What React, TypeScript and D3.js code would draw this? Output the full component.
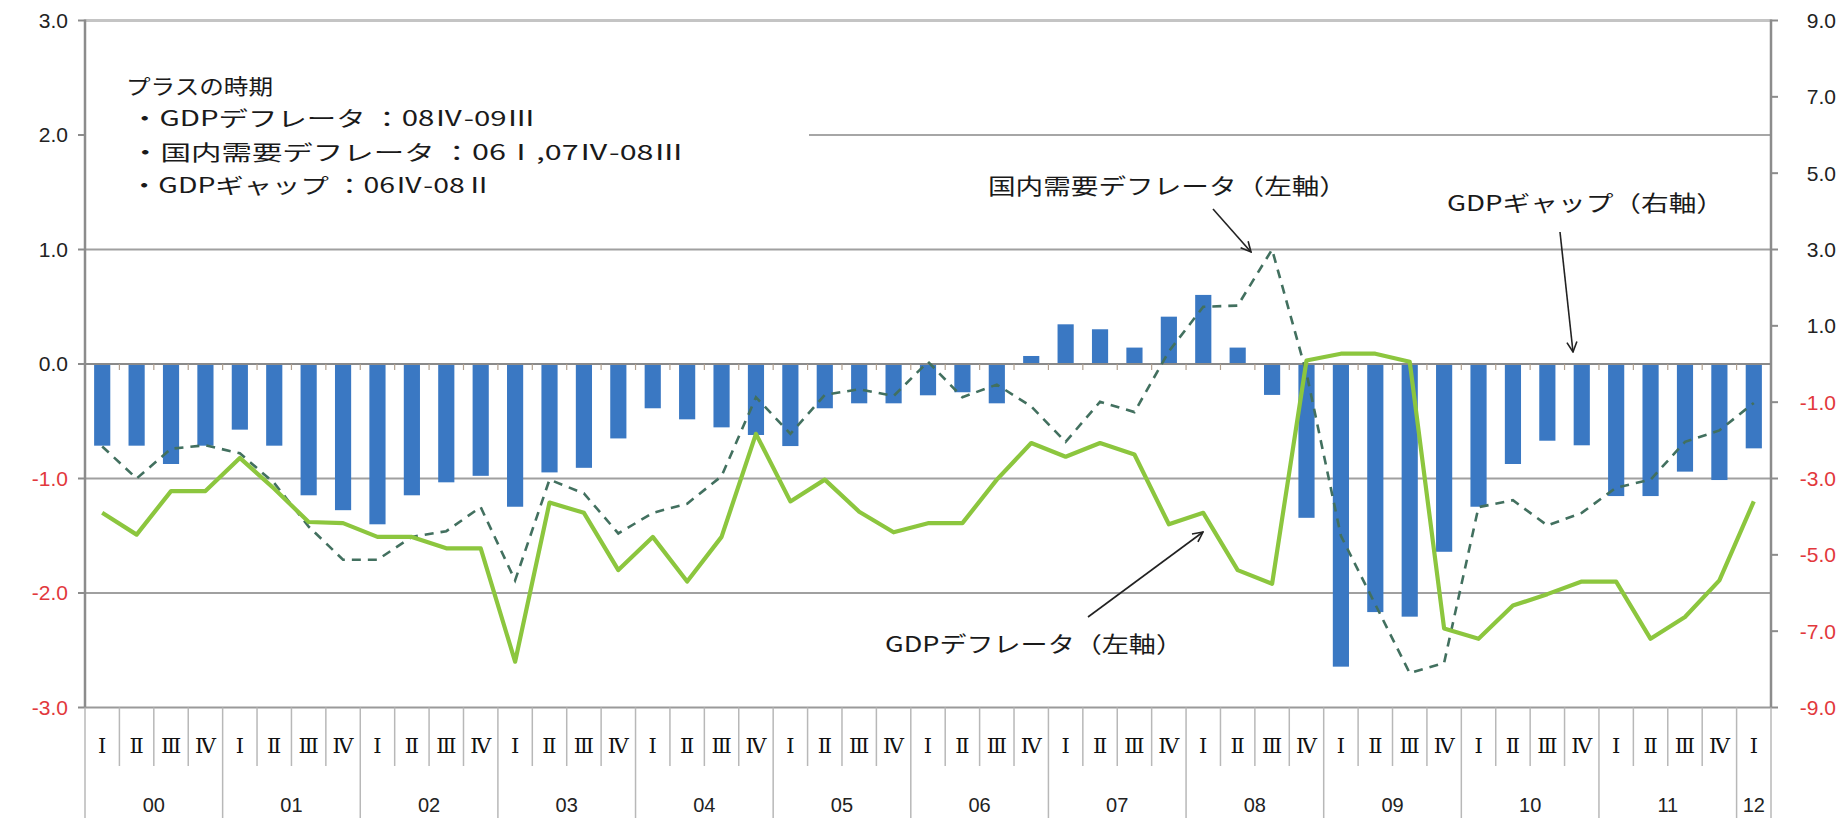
import React from "react";
import * as d3 from "d3";

// ---- data ----
const years = ["00", "01", "02", "03", "04", "05", "06", "07", "08", "09", "10", "11", "12"];
const quarterNames = ["Ⅰ", "Ⅱ", "Ⅲ", "Ⅳ"];
const quartersPerYear = [4, 4, 4, 4, 4, 4, 4, 4, 4, 4, 4, 4, 1];

// GDP gap (right axis, %)
const gdpGap = [
  -2.14, -2.14, -2.62, -2.14, -1.72, -2.14, -3.44, -3.83, -4.2, -3.44, -3.1, -2.93,
  -3.74, -2.84, -2.72, -1.95, -1.16, -1.45, -1.66, -1.86, -2.15, -1.16, -1.03, -1.03,
  -0.82, -0.74, -1.03, 0.21, 1.04, 0.91, 0.43, 1.24, 1.81, 0.43, -0.81,
  -4.03, -7.93, -6.5, -6.62, -4.92, -3.74, -2.62, -2.01, -2.13, -3.46, -3.46, -2.82, -3.04, -2.21,
];
// GDP deflator (left axis, %)
const gdpDeflator = [
  -1.3, -1.49, -1.11, -1.11, -0.82, -1.09, -1.38, -1.39, -1.51, -1.51, -1.61, -1.61,
  -2.6, -1.21, -1.3, -1.8, -1.51, -1.9, -1.51, -0.61, -1.2, -1.01, -1.29, -1.47,
  -1.39, -1.39, -1.01, -0.69, -0.81, -0.69, -0.79, -1.4, -1.3, -1.8, -1.92,
  0.03, 0.09, 0.09, 0.02, -2.31, -2.4, -2.11, -2.01, -1.9, -1.9, -2.4, -2.21, -1.89, -1.2,
];
// Domestic demand deflator (left axis, %)
const domesticDeflator = [
  -0.72, -1.0, -0.74, -0.71, -0.78, -1.04, -1.42, -1.71, -1.71, -1.51, -1.46, -1.25,
  -1.89, -1.01, -1.13, -1.48, -1.3, -1.22, -0.98, -0.29, -0.61, -0.27, -0.22, -0.28,
  0.02, -0.29, -0.18, -0.37, -0.68, -0.33, -0.42, 0.11, 0.5, 0.51, 1.0,
  -0.08, -1.5, -2.1, -2.7, -2.61, -1.25, -1.19, -1.41, -1.3, -1.08, -1.01, -0.68, -0.58, -0.34,
];

const leftTicks = [3, 2, 1, 0, -1, -2, -3];
const rightTicks = [9, 7, 5, 3, 1, -1, -3, -5, -7, -9];

const noteLines = [
  "プラスの時期",
  "・GDPデフレータ ：08Ⅳ-09Ⅲ",
  "・国内需要デフレータ ：06Ⅰ,07Ⅳ-08Ⅲ",
  "・GDPギャップ ：06Ⅳ-08Ⅱ",
];

// ---- layout ----
const W = 1848;
const H = 818;
const L = 85;
const R = 1771;
const T = 20.5;
const B = 707.5;

const JP = "'Noto Sans CJK JP', 'Noto Sans', sans-serif";
const NUM = "'Liberation Sans', Arial, sans-serif";
const SERIF = "'DejaVu Serif', 'Liberation Serif', serif";
const RED = "#e2383c";

export default function App() {
  const categories: { q: string; yi: number }[] = [];
  years.forEach((y, yi) => {
    for (let k = 0; k < quartersPerYear[yi]; k++) categories.push({ q: quarterNames[k], yi });
  });
  const n = categories.length;

  const x = d3.scaleBand<number>().domain(d3.range(n)).range([L, R]).padding(0);
  const bw = x.bandwidth();
  const cx = (i: number) => (x(i) as number) + bw / 2;
  const barW = bw * 0.47;
  const yL = d3.scaleLinear().domain([-3, 3]).range([B, T]);
  const yR = d3.scaleLinear().domain([-9, 9]).range([B, T]);

  const lineGen = d3
    .line<number>()
    .x((_, i) => cx(i))
    .y((d) => yL(d));

  const yearStarts: number[] = [];
  let acc = 0;
  quartersPerYear.forEach((q) => {
    yearStarts.push(acc);
    acc += q;
  });

  const noteLayout = [
    { x: 126, y: 86, w: 147 },
    { x: 130, y: 118, w: 406 },
    { x: 130, y: 152, w: 554 },
    { x: 130, y: 185, w: 363 },
  ];

  return (
    <svg
      width={W}
      height={H}
      viewBox={`0 0 ${W} ${H}`}
      style={{ position: "absolute", left: 0, top: 0, background: "#fff" }}
    >
      <defs>
        <marker id="arr" viewBox="0 0 12 12" refX="11" refY="6" markerWidth="12" markerHeight="12" orient="auto" markerUnits="userSpaceOnUse">
          <path d="M1,1 L11,6 L1,11" fill="none" stroke="#222" strokeWidth="1.6" />
        </marker>
      </defs>
      <rect x={0} y={0} width={W} height={H} fill="#fff" />

      {/* gridlines */}
      <line x1={L} x2={R} y1={yL(3)} y2={yL(3)} stroke="#c4c4c4" strokeWidth={3} />
      <line x1={809} x2={R} y1={yL(2)} y2={yL(2)} stroke="#a6a6a6" strokeWidth={2} />
      {[1, -1, -2].map((v) => (
        <line key={v} x1={L} x2={R} y1={yL(v)} y2={yL(v)} stroke="#a0a0a0" strokeWidth={2} />
      ))}
      <line x1={L} x2={R} y1={yL(-3)} y2={yL(-3)} stroke="#9a9a9a" strokeWidth={2} />

      {/* axis lines */}
      <line x1={L} x2={L} y1={T - 1} y2={B} stroke="#8c8c8c" strokeWidth={2.5} />
      <line x1={R} x2={R} y1={T - 1} y2={B} stroke="#8c8c8c" strokeWidth={2.5} />

      {/* left ticks and labels */}
      {leftTicks.map((v) => (
        <g key={"l" + v}>
          <line x1={L - 7} x2={L} y1={yL(v)} y2={yL(v)} stroke="#8c8c8c" strokeWidth={2} />
          <text
            x={68}
            y={yL(v)}
            dy="0.35em"
            textAnchor="end"
            fontFamily={NUM}
            fontSize={21}
            fill={v < 0 ? RED : "#222"}
          >
            {v.toFixed(1)}
          </text>
        </g>
      ))}

      {/* right ticks and labels */}
      {rightTicks.map((v) => (
        <g key={"r" + v}>
          <line x1={R} x2={R + 7} y1={yR(v)} y2={yR(v)} stroke="#8c8c8c" strokeWidth={2} />
          <text
            x={1836}
            y={yR(v)}
            dy="0.35em"
            textAnchor="end"
            fontFamily={NUM}
            fontSize={21}
            fill={v < 0 ? RED : "#222"}
          >
            {v.toFixed(1)}
          </text>
        </g>
      ))}

      {/* bars (GDP gap, right axis) */}
      {gdpGap.map((v, i) => (
        <rect
          key={"b" + i}
          x={cx(i) - barW / 2}
          y={Math.min(yR(v), yR(0))}
          width={barW}
          height={Math.abs(yR(v) - yR(0))}
          fill="#3a78c3"
        />
      ))}

      {/* zero axis with small ticks */}
      <line x1={L} x2={R} y1={yL(0)} y2={yL(0)} stroke="#8a8a8a" strokeWidth={2} />
      {d3.range(1, n).map((i) => (
        <line key={"zt" + i} x1={x(i) as number} x2={x(i) as number} y1={yL(0)} y2={yL(0) + 6} stroke="#b0a090" strokeWidth={1.2} />
      ))}

      {/* lines */}
      <path d={lineGen(domesticDeflator) || ""} fill="none" stroke="#42705f" strokeWidth={2.6} strokeDasharray="9,7" />
      <path d={lineGen(gdpDeflator) || ""} fill="none" stroke="#8cc63e" strokeWidth={4.2} strokeLinejoin="round" />

      {/* category axis separators */}
      {d3.range(1, n).map((i) => {
        const isYear = yearStarts.includes(i);
        return (
          <line
            key={"qs" + i}
            x1={x(i) as number}
            x2={x(i) as number}
            y1={B}
            y2={isYear ? H : 766}
            stroke="#b8b8b8"
            strokeWidth={1.5}
          />
        );
      })}
      <line x1={L} x2={L} y1={B} y2={H} stroke="#b8b8b8" strokeWidth={1.5} />
      <line x1={R} x2={R} y1={B} y2={H} stroke="#b8b8b8" strokeWidth={1.5} />

      {categories.map((c, i) => (
        <text
          key={"q" + i}
          x={cx(i)}
          y={746}
          dy="0.35em"
          textAnchor="middle"
          fontFamily={SERIF}
          fontSize={21}
          fill="#111"
        >
          {c.q}
        </text>
      ))}
      {years.map((yv, yi) => {
        const s = yearStarts[yi];
        const e = s + quartersPerYear[yi] - 1;
        const mid = ((x(s) as number) + (x(e) as number) + bw) / 2;
        return (
          <text key={"y" + yv} x={mid} y={805} dy="0.35em" textAnchor="middle" fontFamily={NUM} fontSize={20} fill="#222">
            {yv}
          </text>
        );
      })}

      {/* note box */}
      {noteLines.map((t, i) => (
        <text
          key={"n" + i}
          x={noteLayout[i].x}
          y={noteLayout[i].y}
          dy="0.36em"
          fontFamily={JP}
          fontSize={21}
          fill="#1a1a1a"
          textLength={noteLayout[i].w}
          lengthAdjust="spacingAndGlyphs"
        >
          {t}
        </text>
      ))}

      {/* annotations */}
      <text x={988} y={186} dy="0.36em" fontFamily={JP} fontSize={22} fill="#1a1a1a" textLength={359} lengthAdjust="spacingAndGlyphs">
        国内需要デフレータ（左軸）
      </text>
      <line x1={1213} y1={209} x2={1251} y2={252} stroke="#222" strokeWidth={1.6} markerEnd="url(#arr)" />

      <text x={1447} y={203} dy="0.36em" fontFamily={JP} fontSize={22} fill="#1a1a1a" textLength={277} lengthAdjust="spacingAndGlyphs">
        GDPギャップ（右軸）
      </text>
      <line x1={1560} y1={232} x2={1573} y2={352} stroke="#222" strokeWidth={1.6} markerEnd="url(#arr)" />

      <text x={885} y={644} dy="0.36em" fontFamily={JP} fontSize={22} fill="#1a1a1a" textLength={298} lengthAdjust="spacingAndGlyphs">
        GDPデフレータ（左軸）
      </text>
      <line x1={1088} y1={617} x2={1203} y2={532} stroke="#222" strokeWidth={1.6} markerEnd="url(#arr)" />
    </svg>
  );
}
